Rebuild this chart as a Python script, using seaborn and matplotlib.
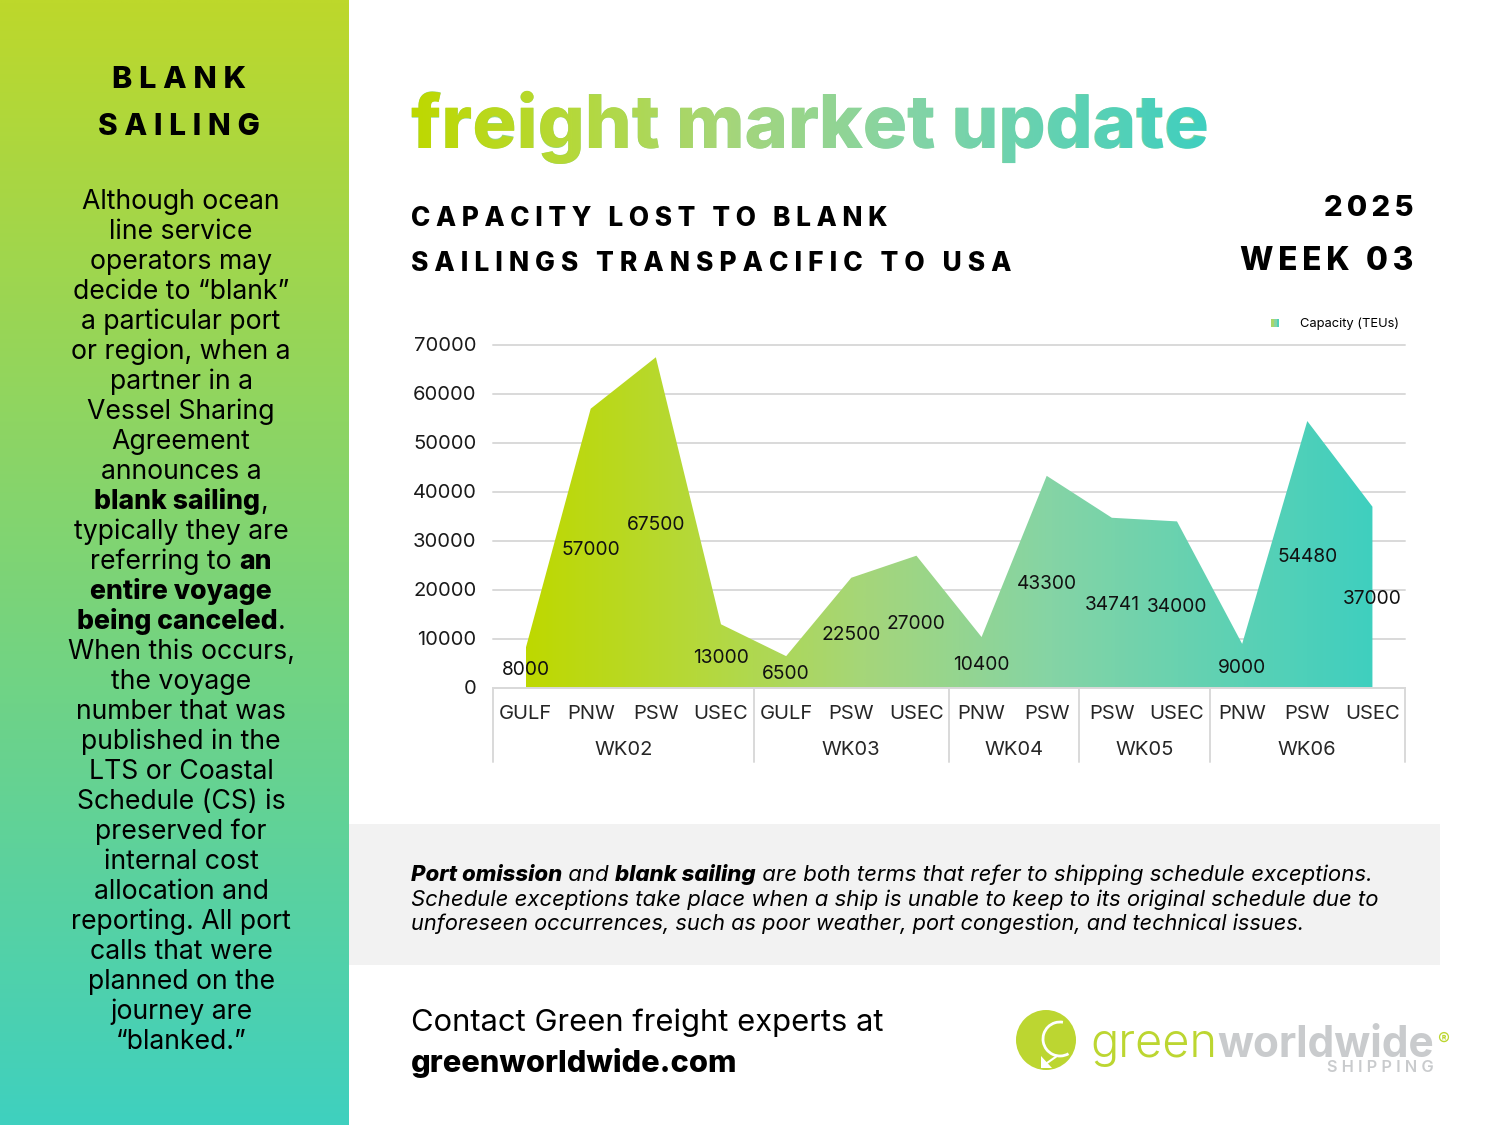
import matplotlib
matplotlib.use("Agg")
import numpy as np
import pandas as pd
import matplotlib.pyplot as plt
import seaborn as sns
from matplotlib.colors import LinearSegmentedColormap
from matplotlib.legend_handler import HandlerTuple
from matplotlib.font_manager import FontProperties
from matplotlib.patches import Arc, Circle, Patch, PathPatch, Polygon, Rectangle
from matplotlib.text import TextPath
from matplotlib.transforms import Affine2D, ScaledTranslation

# chart data
weeks = ["WK02", "WK03", "WK04", "WK05", "WK06"]
week_ports = [
    ["GULF", "PNW", "PSW", "USEC"],
    ["GULF", "PSW", "USEC"],
    ["PNW", "PSW"],
    ["PSW", "USEC"],
    ["PNW", "PSW", "USEC"],
]
capacity = [8000, 57000, 67500, 13000, 6500, 22500, 27000, 10400, 43300, 34741, 34000, 9000, 54480, 37000]
y_ticks = [0, 10000, 20000, 30000, 40000, 50000, 60000, 70000]

# page text
sidebar_lines = [
    [("Although ocean", 0)], [("line service", 0)], [("operators may", 0)],
    [("decide to “blank”", 0)], [("a particular port", 0)], [("or region, when a", 0)],
    [("partner in a", 0)], [("Vessel Sharing", 0)], [("Agreement", 0)],
    [("announces a", 0)], [("blank sailing", 1), (",", 0)], [("typically they are", 0)],
    [("referring to ", 0), ("an", 1)], [("entire voyage", 1)], [("being canceled", 1), (".", 0)],
    [("When this occurs,", 0)], [("the voyage", 0)], [("number that was", 0)],
    [("published in the", 0)], [("LTS or Coastal", 0)], [("Schedule (CS) is", 0)],
    [("preserved for", 0)], [("internal cost", 0)], [("allocation and", 0)],
    [("reporting. All port", 0)], [("calls that were", 0)], [("planned on the", 0)],
    [("journey are", 0)], [("“blanked.”", 0)],
]
note_lines = [
    [("Port omission", 1), (" and ", 0), ("blank sailing", 1),
     (" are both terms that refer to shipping schedule exceptions.", 0)],
    [("Schedule exceptions take place when a ship is unable to keep to its original schedule due to", 0)],
    [("unforeseen occurrences, such as poor weather, port congestion, and technical issues.", 0)],
]

gradient_colors = ["#bed800", "#b5d93a", "#a5d67a", "#85d4a5", "#3fcfbf"]
gradient_stops = [0.0, 0.2, 0.4, 0.62, 1.0]
sidebar_colors = ["#bdd82b", "#3fd0bf"]
grey_line = "#d9d9d9"

sns.set_theme(style="white")
plt.rcParams["font.family"] = ["Inter", "DejaVu Sans"]
plt.rcParams["text.color"] = "black"

area_cmap = LinearSegmentedColormap.from_list("area", list(zip(gradient_stops, gradient_colors)))
side_cmap = LinearSegmentedColormap.from_list("side", sidebar_colors)
ramp = np.linspace(0, 1, 512)

fig = plt.figure(figsize=(15, 11.25), dpi=100, facecolor="white")

# full page axes in reference pixels, y pointing down
page = fig.add_axes([0, 0, 1, 1], zorder=0)
page.set_xlim(0, 1500)
page.set_ylim(1125, 0)
page.axis("off")
renderer = fig.canvas.get_renderer()


def spaced(s, n=1, ch="\u200a"):
    return (ch * n).join(s)


def width_of(s, size, **kw):
    bar = page.text(0, 0, "|", fontsize=size, **kw)
    t = page.text(0, 0, s + "|", fontsize=size, **kw)
    w = t.get_window_extent(renderer).width - bar.get_window_extent(renderer).width
    bar.remove()
    t.remove()
    return w


def fit(s, target, **kw):
    return 100 * target / width_of(s, 100, **kw)


def put_runs(x, y, runs, size, ha="left", bold_kw=None, reg_kw=None):
    widths = [width_of(r[0], size, **(bold_kw if r[1] else reg_kw)) for r in runs]
    left = x - sum(widths) / 2 if ha == "center" else x
    for (txt, is_bold), w in zip(runs, widths):
        page.text(left, y, txt, fontsize=size, ha="left", va="baseline",
                  **(bold_kw if is_bold else reg_kw))
        left += w


# side panel and grey band
page.imshow(ramp[:, None], cmap=side_cmap, extent=(0, 349, 1125, 0), aspect="auto", zorder=0)
page.add_patch(Rectangle((349, 824), 1091, 141, color="#f2f2f2", lw=0, zorder=0))
page.set_xlim(0, 1500)
page.set_ylim(1125, 0)

for s, xc, yb, w in [("BLANK", 179, 88, 134), ("SAILING", 179, 135, 161)]:
    st = spaced(s, 3)
    page.text(xc, yb, st, ha="center", va="baseline", weight=800,
              fontsize=fit(st, w, weight=800))

for i, line in enumerate(sidebar_lines):
    put_runs(181, 209 + 30 * i, line, 19.2, ha="center",
             bold_kw={"weight": 800}, reg_kw={"weight": 400})

# title: real text, with the gradient laid over it through its outline
title = "freight market update"
title_size = fit(title, 798, weight=800)
page.text(411, 148, title, fontsize=title_size, weight=800, color="#8fd59a", va="baseline")
outline = TextPath((0, 0), title, size=title_size * 100 / 72,
                   prop=FontProperties(family="Inter", weight=800))
glyphs = PathPatch(outline, transform=Affine2D().scale(1, -1).translate(411, 148) + page.transData,
                   fc="none", ec="none")
page.add_patch(glyphs)
title_img = page.imshow(ramp[None, :], cmap=area_cmap, extent=(411, 1208, 172, 82),
                        aspect="auto", zorder=3)
title_img.set_clip_path(glyphs)
page.set_xlim(0, 1500)
page.set_ylim(1125, 0)

for s, x, yb, w, ha, n in [
    ("CAPACITY LOST TO BLANK", 411, 226, 480, "left", 3),
    ("SAILINGS TRANSPACIFIC TO USA", 411, 271, 597, "left", 3),
    ("2025", 1413, 216, 90, "right", 2),
    ("WEEK 03", 1413, 270, 173, "right", 2),
]:
    st = spaced(s, n)
    page.text(x, yb, st, ha=ha, va="baseline", weight=800, fontsize=fit(st, w, weight=800))

# chart
df = pd.DataFrame({
    "pos": np.arange(len(capacity)),
    "port": [p for ports in week_ports for p in ports],
    "capacity": capacity,
})

ax = fig.add_axes([493 / 1500, 1 - 688 / 1125, 912 / 1500, 343 / 1125], zorder=1)
ax.patch.set_alpha(0)
sns.lineplot(data=df, x="pos", y="capacity", linewidth=0, legend=False, ax=ax)
line_xy = ax.lines[0].get_xydata()
shape = ax.fill_between(line_xy[:, 0], line_xy[:, 1], 0, facecolor="none", edgecolor="none")
area_img = ax.imshow(ramp[None, :], cmap=area_cmap, aspect="auto", zorder=2,
                     extent=(df["pos"].min(), df["pos"].max(), 0, max(y_ticks)))
area_img.set_clip_path(shape.get_paths()[0], ax.transData)

ax.set_xlim(-0.5, len(capacity) - 0.5)
ax.set_ylim(0, max(y_ticks))
ax.set_xlabel("")
ax.set_ylabel("")
ax.set_yticks(y_ticks)
ax.set_xticks(df["pos"], df["port"])
ax.tick_params(axis="y", length=0, pad=12, labelsize=14.5, labelcolor="#1a1a1a")
ax.tick_params(axis="x", length=0, pad=12, labelsize=14.5, labelcolor="#262626")
ax.yaxis.grid(True, color=grey_line, lw=1.4)
ax.xaxis.grid(False)
ax.set_axisbelow(True)
for gl in ax.get_ygridlines():
    gl.set_clip_on(False)
nudge = ScaledTranslation(0, 1.0 / 100, fig.dpi_scale_trans)
for lab in ax.get_yticklabels():
    lab.set_transform(lab.get_transform() + nudge)
for side in ["top", "left", "right"]:
    ax.spines[side].set_visible(False)
ax.spines["bottom"].set_color(grey_line)
ax.spines["bottom"].set_linewidth(1.4)

for x, v in zip(df["pos"], df["capacity"]):
    ax.annotate(str(v), (x, v / 2), xytext=(0, -1.5), textcoords="offset points",
                ha="center", va="center", fontsize=13.8, color="#111111", zorder=5)

# week groups below the port labels
trans = ax.get_xaxis_transform()
edge = -0.5
ax.plot([edge, edge], [0, -0.2157], color=grey_line, lw=1.4, transform=trans, clip_on=False)
for week, ports in zip(weeks, week_ports):
    ax.text(edge + len(ports) / 2, -0.181, week, transform=trans, ha="center", va="center",
            fontsize=14.5, color="#262626")
    edge += len(ports)
    ax.plot([edge, edge], [0, -0.2157], color=grey_line, lw=1.4, transform=trans, clip_on=False)

swatches = tuple(Patch(color=area_cmap(t), lw=0) for t in [0.35, 0.6, 0.9])
ax.legend([swatches], ["Capacity (TEUs)"], handler_map={tuple: HandlerTuple(ndivide=None, pad=0)},
          loc="center right", bbox_to_anchor=(1399, 324), bbox_transform=page.transData,
          frameon=False, borderaxespad=0, borderpad=0, fontsize=9.3,
          handlelength=0.62, handleheight=0.62, handletextpad=1.6)

# note in the grey band
for line, yb, size in zip(note_lines, [881, 906, 930], [16.0, 15.93, 15.67]):
    put_runs(411, yb, line, size, bold_kw={"weight": 800, "style": "italic"},
             reg_kw={"weight": 400, "style": "italic"})

# contact
s = "Contact Green freight experts at"
page.text(411, 1031, s, va="baseline", fontsize=fit(s, 472, weight=400), weight=400)
s = "greenworldwide.com"
page.text(411, 1072, s, va="baseline", fontsize=fit(s, 326, weight=800), weight=800)

# logo
lime = "#bcd631"
grey = "#c9cbcd"
page.add_patch(Circle((1046, 1040), 30, color=lime, lw=0, zorder=1))
page.add_patch(Arc((1060, 1039), 34, 34, theta1=60, theta2=280, color="white", lw=2, zorder=2))
page.plot([1047, 1057], [1063, 1056], color="white", lw=1.5, zorder=2)
page.add_patch(Polygon([(1041, 1056), (1041, 1068), (1052, 1068)], color="white", lw=0, zorder=2))
s = "green"
page.text(1090, 1057, s, color=lime, va="baseline", weight=300, fontsize=fit(s, 127, weight=300))
s = "worldwide"
page.text(1217, 1057, s, color=grey, va="baseline", weight=700, fontsize=fit(s, 217, weight=700))
page.text(1437, 1045, "®", color=lime, va="baseline", fontsize=13)
s = spaced("SHIPPING", 3)
page.text(1434, 1072, s, color=grey, ha="right", va="baseline", weight=600,
          fontsize=fit(s, 106, weight=600))
page.set_xlim(0, 1500)
page.set_ylim(1125, 0)

fig.savefig("out.png", dpi=100, facecolor="white")
